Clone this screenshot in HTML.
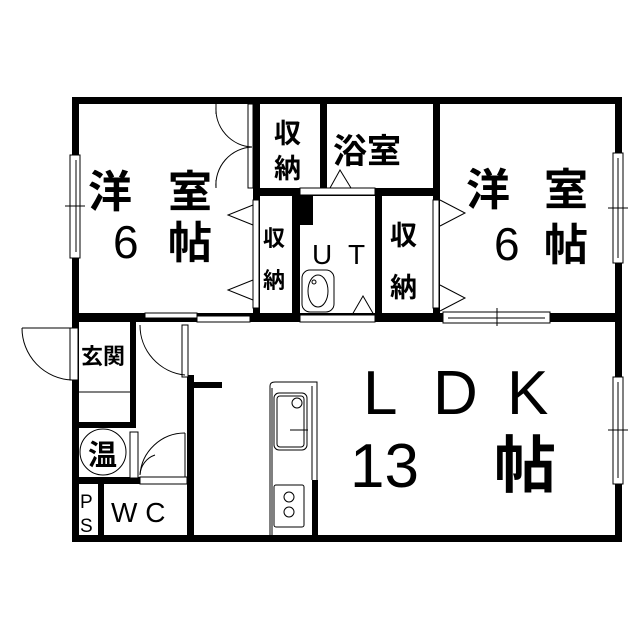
<!DOCTYPE html>
<html><head><meta charset="utf-8"><style>
html,body{margin:0;padding:0;background:#fff;}
svg{display:block}
text{font-family:"Liberation Sans","Noto Sans CJK JP",sans-serif;fill:#000;font-weight:bold}
text.n{font-weight:normal}
</style></head><body>
<svg width="639" height="640" viewBox="0 0 639 640" xmlns="http://www.w3.org/2000/svg">
<rect width="639" height="640" fill="#fff"/>
<g fill="#000">
<rect x="72" y="97" width="550" height="7"/>
<rect x="72" y="97" width="7" height="225"/>
<rect x="615" y="97" width="7" height="445"/>
<rect x="187" y="535" width="435" height="7"/>
<rect x="72" y="322" width="7" height="220"/>
<rect x="72" y="535" width="121" height="7"/>
<rect x="72" y="313" width="550" height="9"/>
<rect x="253" y="104" width="7" height="218"/>
<rect x="320" y="104" width="7" height="90"/>
<rect x="253" y="188" width="187" height="8"/>
<rect x="433" y="104" width="7" height="218"/>
<rect x="292" y="195" width="8" height="120"/>
<rect x="292" y="195" width="21" height="30"/>
<rect x="375" y="195" width="7" height="120"/>
<rect x="130" y="322" width="6" height="106"/>
<rect x="187" y="375" width="7" height="165"/>
<rect x="194" y="382" width="28" height="6"/>
<rect x="72" y="422" width="64" height="6"/>
<rect x="72" y="477" width="115" height="7"/>
<rect x="98" y="477" width="6" height="60"/>
<rect x="312" y="480" width="6" height="58"/>
</g>
<g fill="#fff" stroke="#000" stroke-width="1">
<rect x="70" y="155" width="10" height="103"/>
<rect x="613" y="153" width="10" height="110"/>
<rect x="613" y="377" width="10" height="107"/>
<rect x="443" y="312" width="107" height="11"/>
<rect x="145" y="313" width="52" height="5"/>
<rect x="197" y="316" width="53" height="6"/>
<rect x="300" y="188" width="75" height="7"/>
<rect x="300" y="315" width="75" height="7"/>
<rect x="253" y="200" width="6" height="108"/>
<rect x="433" y="200" width="6" height="108"/>
<rect x="248" y="104" width="5" height="84"/>
<rect x="70" y="328" width="8" height="52"/>
<rect x="182" y="325" width="6" height="52"/>
<rect x="130" y="432" width="8" height="46"/>
<rect x="140" y="477" width="47" height="7"/>
</g>
<g fill="none" stroke="#000" stroke-width="1">
<line x1="65" y1="206" x2="85" y2="206"/><line x1="76" y1="160" x2="76" y2="252"/>
<line x1="608" y1="208" x2="628" y2="208"/><line x1="618" y1="158" x2="618" y2="258"/>
<line x1="608" y1="430" x2="628" y2="430"/><line x1="618" y1="382" x2="618" y2="478"/>
<line x1="497" y1="308" x2="497" y2="326"/><line x1="448" y1="318" x2="545" y2="318"/>
<line x1="216" y1="104" x2="216" y2="114"/><line x1="216" y1="180" x2="216" y2="188"/>
<path d="M216 107 A38 38 0 0 0 252 147"/>
<path d="M216 188 A38 38 0 0 1 252 147"/>
<path d="M253 205 L228 215 L253 225"/>
<path d="M253 280 L228 290 L253 300"/>
<path d="M440 200 L465 213 L440 226"/>
<path d="M440 285 L465 298 L440 311"/>
<path d="M330 188 L340 170 L351 188"/>
<path d="M352 315 L363 296 L374 315"/>
<path d="M22 328 L72 328"/>
<path d="M22 328 A52 52 0 0 0 72 380"/>
<path d="M140 325 A50 50 0 0 0 185 375"/>
<line x1="79" y1="392" x2="130" y2="392"/>
<path d="M140 475 A45 45 0 0 1 185 433"/><line x1="185" y1="433" x2="185" y2="477"/>
<path d="M140 475 A22 22 0 0 1 155 455"/>
<circle cx="103" cy="452" r="23"/>
<rect x="302" y="270" width="32" height="42" rx="8"/>
<ellipse cx="318" cy="291" rx="10" ry="16"/>
<circle cx="314" cy="282" r="2"/>
<path d="M270 540 L270 386 Q270 382 275 382 L317 382 L317 480"/>
<line x1="272" y1="388" x2="272" y2="535"/><line x1="312" y1="386" x2="312" y2="480"/>
<rect x="274" y="393" width="33" height="57" rx="5"/>
<rect x="277" y="396" width="27" height="51" rx="3"/>
<circle cx="297" cy="403" r="5"/><line x1="290" y1="430" x2="308" y2="430"/>
<rect x="274" y="485" width="30" height="42" rx="2"/>
<circle cx="289" cy="497" r="5"/><circle cx="289" cy="512" r="5"/>
</g>
<g font-size="44">
<text x="88" y="207">洋</text><text x="168" y="207">室</text>
<text class="n" x="113" y="258" font-size="46">6</text><text x="168" y="258">帖</text>
<text x="466" y="205">洋</text><text x="544" y="205">室</text>
<text class="n" x="494" y="260" font-size="46">6</text><text x="544" y="260">帖</text>
</g>
<g font-size="27">
<text x="274" y="143">収</text><text x="274" y="178">納</text>
<text x="390" y="245">収</text><text x="390" y="297">納</text>
</g>
<text x="333" y="163" font-size="34">浴室</text>
<g font-size="22">
<text x="263" y="246">収</text><text x="263" y="288">納</text>
</g>
<text class="n" x="312" y="264" font-size="28">U</text><text class="n" x="348" y="264" font-size="28">T</text>
<text x="81" y="364" font-size="22">玄関</text>
<text x="88" y="465" font-size="29">温</text>
<text class="n" x="80" y="508" font-size="19">P</text><text class="n" x="80" y="532" font-size="19">S</text>
<text class="n" x="111" y="522" font-size="28">W C</text>
<g font-size="62">
<text class="n" x="363" y="414">L</text><text class="n" x="433" y="414">D</text><text class="n" x="507" y="414">K</text>
<text class="n" x="350" y="487">13</text><text x="494" y="487">帖</text>
</g>
</svg>
</body></html>
